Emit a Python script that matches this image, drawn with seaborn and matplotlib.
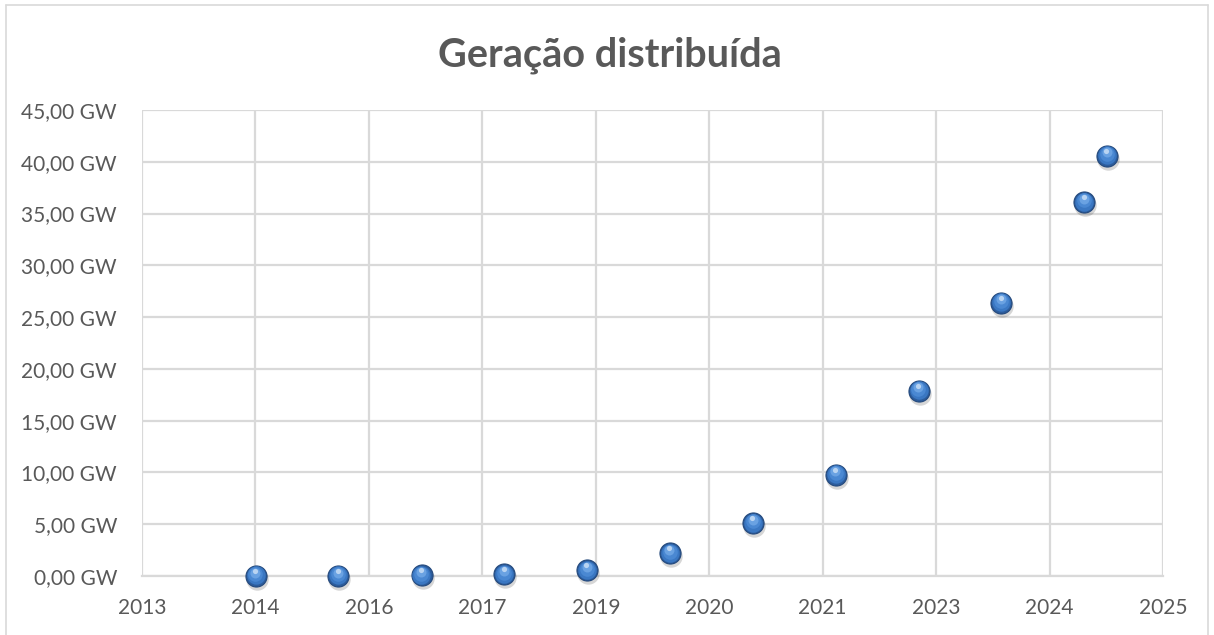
import matplotlib
matplotlib.use("Agg")
import matplotlib.pyplot as plt
import matplotlib.dates as mdates
import matplotlib.transforms as mtransforms
from matplotlib.ticker import FixedLocator, FixedFormatter, MultipleLocator, FuncFormatter
import seaborn as sns
import pandas as pd
import numpy as np

# ---- data ----
dates = ["2014-12-31", "2015-12-31", "2016-12-31", "2017-12-31", "2018-12-31",
         "2019-12-31", "2020-12-31", "2021-12-31", "2022-12-31", "2023-12-31",
         "2024-12-31", "2025-04-10"]
capacity_gw = [0.01, 0.02, 0.06, 0.16, 0.55, 2.2, 5.1, 9.8, 17.9, 26.4, 36.1, 40.6]
x_tick_labels = ["2013", "2014", "2016", "2017", "2019", "2020", "2021", "2023", "2024", "2025"]
title = "Geração distribuída"

df = pd.DataFrame({"date": pd.to_datetime(dates), "gw": capacity_gw})
df["x"] = mdates.date2num(df["date"])

sns.set_theme(style="white")
plt.rcParams["font.family"] = ["Lato", "DejaVu Sans"]

fig = plt.figure(figsize=(12.14, 6.35), dpi=100)
ax = fig.add_axes([142/1214, 1-576/635, (1163-142)/1214, (576-110)/635])

grey = "#595959"
grid = "#D9D9D9"

# axis range: date axis with major unit of 500 days (Excel style)
start = pd.Timestamp("2013-08-17")
tick_dates = [start + pd.Timedelta(days=500*k) for k in range(len(x_tick_labels))]
tick_nums = mdates.date2num(tick_dates)
ax.set_xlim(tick_nums[0], tick_nums[-1])
ax.set_ylim(0, 45)

# shadow
shadow_tr = ax.transData + mtransforms.ScaledTranslation(1/100, -3/100, fig.dpi_scale_trans)
ax.scatter(df["x"], df["gw"], s=260, color="#000000", alpha=0.16,
           linewidths=0, transform=shadow_tr, zorder=3, clip_on=False)

sns.scatterplot(data=df, x="x", y="gw", ax=ax,
                s=230, color="#2C5C9C", edgecolor="#24497C", linewidth=0.8,
                zorder=4, clip_on=False, legend=False)
layers = [(175, "#3A77C2", 0.6), (110, "#4A88D2", 1.7), (52, "#6AA2E2", 3.2), (14, "#B9D4F2", 4.9)]
for s, c, dy in layers:
    tr = ax.transData + mtransforms.ScaledTranslation(-dy*0.15/100, dy/100, fig.dpi_scale_trans)
    ax.scatter(df["x"], df["gw"], s=s, color=c, linewidths=0,
               transform=tr, zorder=5, clip_on=False)

ax.xaxis.set_major_locator(FixedLocator(tick_nums))
ax.xaxis.set_major_formatter(FixedFormatter(x_tick_labels))
ax.yaxis.set_major_locator(MultipleLocator(5))
ax.yaxis.set_major_formatter(FuncFormatter(lambda v, p: f"{v:.2f}".replace(".", ",") + " GW"))

ax.grid(True, color=grid, linewidth=1.6)
ax.set_axisbelow(True)
for sp in ["top", "right", "left"]:
    ax.spines[sp].set_visible(False)
ax.spines["bottom"].set_color(grid)
ax.spines["bottom"].set_linewidth(1.6)
ax.tick_params(axis="both", length=0, labelsize=15, labelcolor=grey)
ax.tick_params(axis="x", pad=16)
ax.tick_params(axis="y", pad=18)
ax.set_xlabel("")
ax.set_ylabel("")

fig.text(610/1214, 1-55/635, title, ha="center", va="center", fontsize=28.5,
         fontweight="bold", color=grey)

# chart border
fig.add_artist(plt.Line2D([6/1214, 6/1214], [0, 1-5/635], transform=fig.transFigure, color=grid, lw=1.2))
fig.add_artist(plt.Line2D([6/1214, 1208/1214], [1-5/635, 1-5/635], transform=fig.transFigure, color=grid, lw=1.2))
fig.add_artist(plt.Line2D([1208/1214, 1208/1214], [0, 1-5/635], transform=fig.transFigure, color=grid, lw=1.2))

fig.savefig("out.png", dpi=100, facecolor="white")
